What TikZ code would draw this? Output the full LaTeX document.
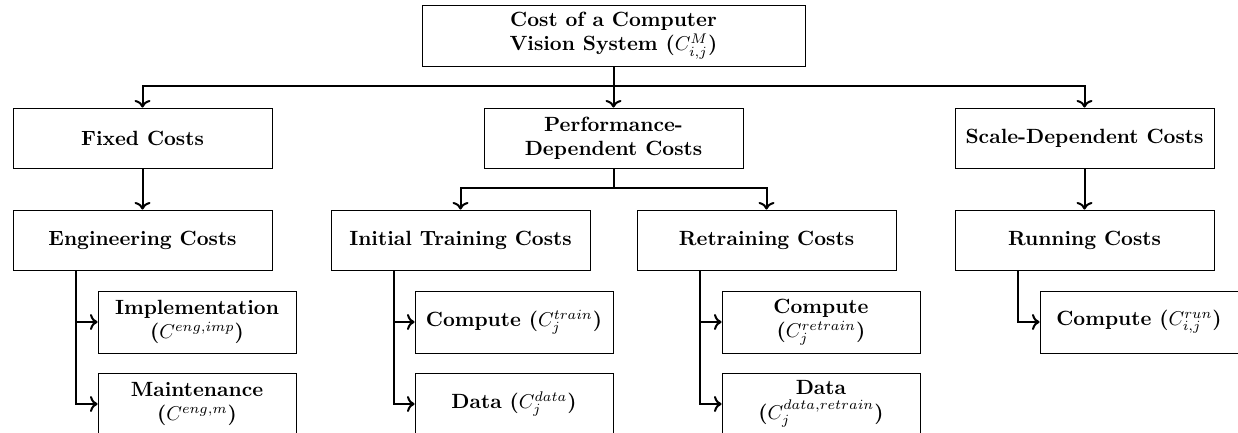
\documentclass[tikz,border=0pt]{standalone}
\usepackage{amsmath}
\usepackage{tikz}
\usetikzlibrary{arrows.meta}

\begin{document}
\begin{tikzpicture}[x=0.5pt,y=0.5pt,cb/.style={rectangle,draw,font=\fontsize{10.3}{12.2}\selectfont\bfseries,align=center,minimum
        width=129.5pt,minimum height=30pt,inner sep=2pt},sb/.style={minimum width=99pt,minimum height=31pt},
        every node/.append style={cb},ln/.style={line width=1pt,->}]
         \useasboundingbox (0,0) rectangle (1238,-433);
         \path (613.5,-35.5) node[minimum width=191.5pt,minimum height=30.5pt] (cost) {Cost of a Computer\\Vision System ($C_{i,j}^{M}$)}
         ++(-471,-102.5) node (fixed) {Fixed Costs} ++(0,-102) node (eng) {Engineering Costs}
         ++(54.5,-82) node[sb] (impl) {Implementation\\($C^{eng,imp}$)} ++(0,-82) node[sb] (maint) {Maintenance\\($C^{eng,m}$)};
         \path (613.5,-138) node (perf) {Performance-\\Dependent Costs} ++(-153,-102) node (init) {Initial Training Costs}
         ++(53.5,-82) node[sb] (ctrain) {Compute ($C_j^{train}$)} ++(0,-82) node[sb] (data) {Data ($C_j^{data}$)};
         \path (766.5,-240) node (retr) {Retraining Costs} ++(54.5,-82) node[sb] (cretr) {Compute\\($C_j^{retrain}$)}
         ++(0,-82) node[sb] (dretr) {Data\\($C_j^{data,retrain}$)};
         \path (1084.5,-138) node (scale) {Scale-Dependent Costs} ++(0,-102) node (run) {Running Costs}
         ++(54.5,-82) node[sb] (crun) {Compute ($C_{i,j}^{run}$)};
         \foreach \X in {fixed,perf,scale} {\draw[ln] (cost.south) -- ++(0,-20) -| (\X.north);}
         \foreach \X in {init,retr} {\draw[ln] (perf.south) -- ++(0,-20) -| (\X.north);}
         \draw[ln] (fixed) -- (eng);
         \draw[ln] (scale) -- (run);
         \foreach \X/\Y in {eng/impl,eng/maint,init/ctrain,init/data,retr/cretr,retr/dretr,run/crun}
         {\draw[ln] ([xshift=31.5pt]\X.south west) |- (\Y.west);}
    \end{tikzpicture}
\end{document}
